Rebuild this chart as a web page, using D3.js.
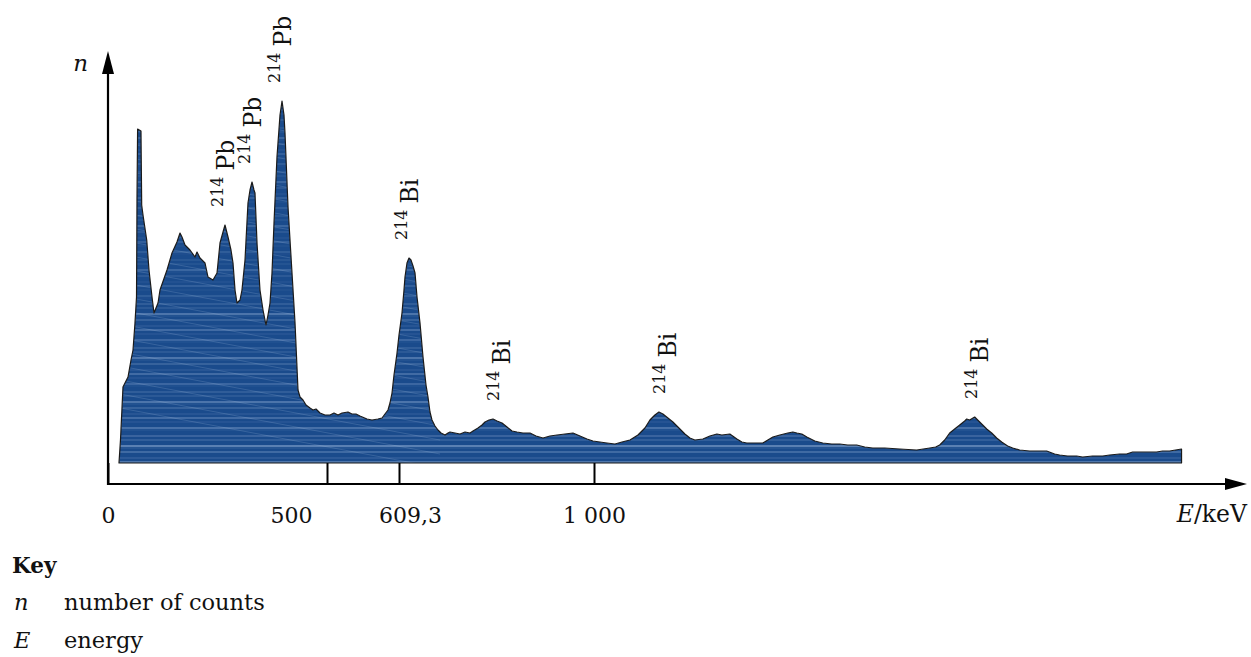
<!DOCTYPE html>
<html>
<head>
<meta charset="utf-8">
<script src="https://cdn.jsdelivr.net/npm/d3@7"></script>
<style>
    body { margin: 0; background: #fff; }
    svg text { font-family: "DejaVu Serif", serif; fill: #111; }
</style>
</head>
<body>
<div id="chart"></div>
<script>
// spectrum, energy read against the printed axis (keV), counts in arbitrary units
var energy = [25.1, 28.5, 34.2, 45.7, 52.5, 57.1, 61.6, 65.1, 66.2, 67.6, 75.3, 76.9, 79.9, 88.4, 93.6, 100.5,
    105.0, 114.2, 118.7, 134.7, 146.1, 157.5, 164.4, 168.9, 175.8, 187.2, 198.6, 203.2, 210.0, 221.5, 228.3,
    239.7, 248.9, 255.7, 262.6, 267.1, 274.0, 280.8, 285.4, 290.0, 294.5, 301.4, 305.9, 312.8, 319.6, 324.2,
    328.8, 333.3, 335.6, 340.2, 347.0, 353.9, 360.7, 365.3, 369.9, 374.4, 379.0, 385.8, 392.7, 397.3, 401.8,
    404.1, 411.0, 420.1, 427.0, 433.8, 438.4, 445.2, 452.1, 461.2, 468.0, 474.9, 484.0, 495.4,
    504.6, 510.6, 516.7, 522.8, 531.9, 537.9, 544.0, 550.1, 560.7, 568.3, 577.4, 583.5, 588.0, 592.6, 595.6,
    598.7, 601.7, 606.3,
    609.3, 615.3, 619.3, 621.3, 625.3, 629.3, 633.3, 637.4, 641.4, 645.4, 651.4, 657.4, 663.4, 667.4, 671.4,
    675.4, 681.4, 687.4, 693.5, 701.5, 707.5, 711.5, 721.5, 731.5, 741.5, 751.6, 757.6, 767.6, 775.6, 781.6,
    789.6, 797.7, 805.7, 815.7, 825.7, 835.7, 845.7, 857.7, 871.8, 883.8, 897.8, 911.8, 925.8, 941.8, 957.9,
    971.9, 985.9, 997.9, 1011.9, 1026.0, 1042.0, 1056.0, 1072.1, 1088.1, 1102.1, 1112.1, 1122.1, 1130.1,
    1138.2, 1148.2, 1158.2, 1168.2, 1182.2, 1192.2, 1202.2, 1218.3, 1232.3, 1246.3, 1256.3, 1272.3, 1286.4,
    1296.4, 1306.4, 1322.4, 1338.5, 1348.5, 1358.5, 1372.5, 1388.5, 1398.6, 1406.6, 1416.6, 1426.6, 1442.6,
    1458.7, 1476.7, 1492.7, 1508.7, 1526.7, 1542.8, 1558.8, 1582.8, 1612.9, 1646.9, 1673.0, 1685.0, 1693.0,
    1703.0, 1713.0, 1723.0, 1733.1, 1743.1, 1747.1, 1753.1, 1763.1, 1771.1, 1779.2, 1787.2, 1797.2, 1807.2,
    1817.2, 1829.2, 1839.3, 1853.3, 1873.3, 1893.4, 1907.4, 1923.4, 1933.4, 1949.4, 1967.5, 1979.5, 1999.5,
    2019.6, 2033.6, 2053.6, 2067.6, 2079.7, 2093.7, 2113.7, 2127.7, 2139.7, 2153.8, 2165.8, 2177.8, 2177.8];

var counts = [0, 23, 76, 86, 103, 113, 140, 166, 263, 334, 332, 258, 248, 223, 193, 166,
    150, 160, 173, 193, 210, 221, 230, 226, 218, 213, 206, 211, 205, 200, 186,
    183, 190, 220, 231, 238, 226, 213, 200, 173, 160, 163, 173, 203, 260, 273,
    281, 273, 270, 220, 173, 153, 138, 148, 160, 190, 240, 306, 348, 362, 348,
    330, 256, 190, 140, 73, 66, 63, 58, 55, 53, 54, 50, 48,
    48, 50, 48, 50, 51, 49, 49, 47, 44, 43, 44, 45, 49, 53, 60,
    70, 88, 110,
    128, 150, 173, 186, 200, 205, 203, 197, 190, 166, 140, 106, 78, 66, 51,
    43, 37, 33, 30, 28, 30, 31, 30, 29, 31, 30, 32, 35, 38, 41,
    43, 44, 42, 40, 36, 32, 31, 30, 30, 27, 25, 27, 28, 29, 30,
    27, 24, 22, 21, 20, 19, 21, 23, 28, 35, 43, 48, 51,
    49, 45, 41, 36, 29, 25, 23, 24, 27, 29, 28, 29, 24,
    21, 20, 20, 20, 23, 26, 28, 30, 31, 30, 29, 26, 22,
    20, 19, 19, 18, 18, 16, 15, 15, 14, 13, 15, 16, 18,
    23, 30, 34, 38, 42, 44, 43, 46, 42, 38, 34, 30, 25,
    21, 17, 15, 13, 12, 12, 12, 9, 8, 7, 7, 6, 7,
    7, 8, 9, 9, 11, 11, 11, 11, 12, 12, 13, 14, 0];

// axis ticks
var tickValues = [0, 500, 609.3, 1000];
var tickLabels = ["0", "500", "609,3", "1 000"];

// peak annotations
var peakMass = ["214", "214", "214", "214", "214", "214", "214"];
var peakElement = ["Pb", "Pb", "Pb", "Bi", "Bi", "Bi", "Bi"];
var peakEnergy = [267.1, 328.8, 397.3, 629.3, 797.7, 1130.1, 1755];

// key
var keySymbols = ["n", "E"];
var keyTexts = ["number of counts", "energy"];

function init() {
    var w = 1251;
    var h = 657;
    var originX = 108;
    var originY = 484;
    var baseY = 463;

    var svg = d3.select("#chart")
        .append("svg")
        .attr("width", w)
        .attr("height", h);

    // printed axis is schematic, so the scale follows its ticks piece by piece
    var xScale = d3.scaleLinear()
        .domain([0, 500, 609.3, 1000, 2305])
        .range([originX, 327, 399, 594, 1245]);

    var yScale = d3.scaleLinear()
        .domain([0, 413])
        .range([baseY, 50]);

    var idx = d3.range(energy.length);

    var area = d3.area()
        .x(function (i) { return xScale(energy[i]); })
        .y0(yScale(0))
        .y1(function (i) { return yScale(counts[i]); });

    var defs = svg.append("defs");
    defs.append("clipPath")
        .attr("id", "specClip")
        .append("path")
        .attr("d", area(idx));

    // filled spectrum with light streaks
    var spec = svg.append("g").attr("clip-path", "url(#specClip)");
    spec.append("path")
        .attr("d", area(idx))
        .attr("fill", "#1a4b8c");

    var cycle = [0.35, 0, 0.12, 0, 0, 0.25, 0, 0.08, 0.45, 0, 0, 0.15, 0, 0.2, 0, 0, 0.06, 0.3, 0, 0, 0.1, 0];
    var stripeY = d3.range(baseY - 1, 90, -2);
    spec.selectAll("line.stripe")
        .data(stripeY)
        .enter()
        .append("line")
        .attr("class", "stripe")
        .attr("x1", 110)
        .attr("x2", 1190)
        .attr("y1", function (d) { return d; })
        .attr("y2", function (d) { return d; })
        .attr("stroke", "#bcd0ee")
        .attr("stroke-width", 1)
        .attr("stroke-opacity", function (d, i) {
            var k = d > 425 ? 1.9 : (d > 300 ? 1.4 : 0.9);
            return Math.min(0.8, cycle[i % cycle.length] * k);
        });

    // faint diagonal streaks in the tall peaks
    var diag = d3.range(100, 420, 14);
    spec.selectAll("line.diag")
        .data(diag)
        .enter()
        .append("line")
        .attr("class", "diag")
        .attr("x1", 120)
        .attr("x2", 440)
        .attr("y1", function (d) { return d; })
        .attr("y2", function (d) { return d + 60; })
        .attr("stroke", "#bcd0ee")
        .attr("stroke-width", 0.6)
        .attr("stroke-opacity", 0.3);

    svg.append("path")
        .attr("d", area(idx))
        .attr("fill", "none")
        .attr("stroke", "#1a1a1a")
        .attr("stroke-width", 1.2)
        .attr("stroke-linejoin", "round");

    // x axis ticks, going up from the axis to the spectrum base
    var xAxis = d3.axisBottom(xScale)
        .tickValues(tickValues)
        .tickSizeInner(-(originY - baseY))
        .tickSizeOuter(0)
        .tickFormat(function (d, i) { return tickLabels[i]; });

    var gx = svg.append("g")
        .attr("transform", "translate(0," + originY + ")")
        .call(xAxis);
    gx.select(".domain").remove();
    gx.selectAll(".tick line")
        .attr("stroke", "#000")
        .attr("stroke-width", 2);
    // labels in the source sit a little off their ticks
    var labelShift = [0, -36, 11, 0];
    gx.selectAll(".tick text")
        .attr("y", 39)
        .attr("dy", 0)
        .attr("dx", function (d, i) { return labelShift[i]; })
        .style("font-family", "'DejaVu Serif', serif")
        .style("font-size", "22px")
        .attr("fill", "#111");

    // axis lines with arrows
    svg.append("line")
        .attr("x1", originX).attr("y1", originY)
        .attr("x2", 1226).attr("y2", originY)
        .attr("stroke", "#000").attr("stroke-width", 2.2);
    svg.append("path")
        .attr("d", "M1247," + originY + "L1225," + (originY - 6) + "L1225," + (originY + 6) + "Z")
        .attr("fill", "#000");
    svg.append("line")
        .attr("x1", originX).attr("y1", originY + 1)
        .attr("x2", originX).attr("y2", 72)
        .attr("stroke", "#000").attr("stroke-width", 2.2);
    svg.append("path")
        .attr("d", "M" + originX + ",51L" + (originX - 6) + ",74L" + (originX + 6) + ",74Z")
        .attr("fill", "#000");

    svg.append("text")
        .attr("x", 88)
        .attr("y", 71)
        .attr("text-anchor", "end")
        .style("font-size", "23px")
        .style("font-style", "italic")
        .text("n");

    var eLabel = svg.append("text")
        .attr("x", 1247)
        .attr("y", 522)
        .attr("text-anchor", "end")
        .style("font-size", "23.5px");
    eLabel.append("tspan").style("font-style", "italic").text("E");
    eLabel.append("tspan").text("/keV");

    // peak labels, rotated, above each peak
    peakEnergy.forEach(function (e, i) {
        var top = d3.max(idx.filter(function (j) {
            return Math.abs(energy[j] - e) <= 20;
        }), function (j) { return counts[j]; });
        var lx = xScale(e) + (top > 150 ? 9 : 17);
        var ly = yScale(top) - 18;
        var t = svg.append("text")
            .attr("transform", "translate(" + lx + "," + ly + ") rotate(-90)");
        t.append("tspan")
            .attr("dy", -11)
            .style("font-size", "16px")
            .text(peakMass[i]);
        t.append("tspan")
            .attr("dx", 6)
            .attr("dy", 11)
            .style("font-size", "23.5px")
            .text(peakElement[i]);
    });

    // key below the chart
    svg.append("text")
        .attr("x", 12)
        .attr("y", 573)
        .style("font-size", "21.5px")
        .style("font-weight", "bold")
        .text("Key");

    var key = svg.selectAll("g.key")
        .data(keySymbols)
        .enter()
        .append("g")
        .attr("class", "key")
        .attr("transform", function (d, i) { return "translate(0," + (610 + i * 38) + ")"; });
    key.append("text")
        .attr("x", 14)
        .style("font-size", "22.5px")
        .style("font-style", "italic")
        .text(function (d) { return d; });
    key.append("text")
        .attr("x", 64)
        .style("font-size", "22.5px")
        .text(function (d, i) { return keyTexts[i]; });
}

window.onload = init;
</script>
</body>
</html>
